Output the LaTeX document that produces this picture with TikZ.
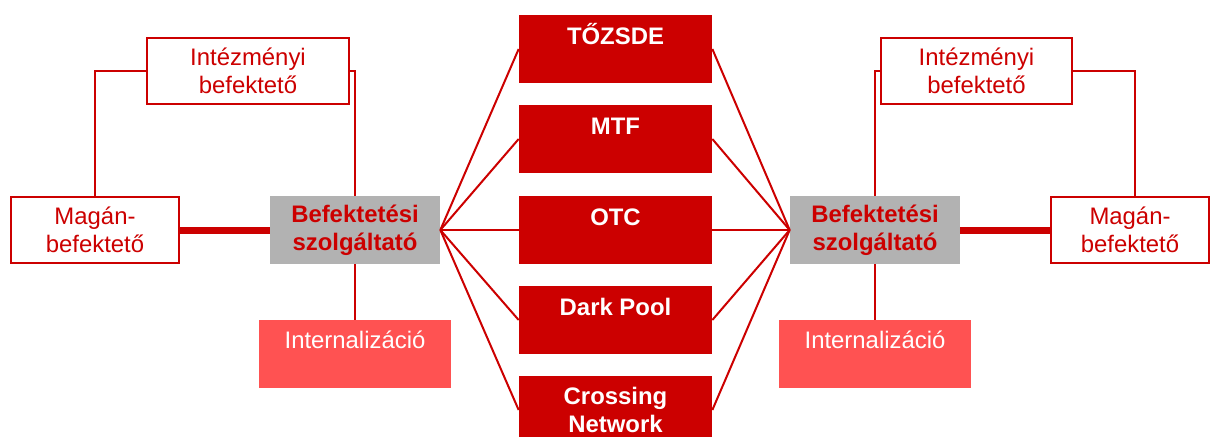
\documentclass[tikz,border=0pt]{standalone}
\usepackage{fontspec}
\setmainfont{Liberation Sans}
\definecolor{mred}{RGB}{204,0,0}
\definecolor{lred}{RGB}{255,82,82}
\definecolor{mgray}{RGB}{178,178,178}

\begin{document}
\begin{tikzpicture}[x=0.02cm, y=-0.02cm,
  every node/.style={inner sep=0pt, align=center, font=\fontsize{13.6}{15.9}\selectfont},
  investor/.style={draw=mred, line width=0.04cm, fill=white, text=mred, minimum height=1.32cm},
  provider/.style={fill=mgray, text=mred, font=\fontsize{13.6}{15.9}\selectfont\bfseries, minimum width=3.4cm, minimum height=1.36cm},
  venue/.style={fill=mred, text=white, font=\fontsize{13.6}{15.9}\selectfont\bfseries, minimum width=3.86cm, text height=0.59cm, text depth=0.77cm},
  internal/.style={fill=lred, text=white, minimum width=3.86cm, text height=0.56cm, text depth=0.8cm},
  link/.style={draw=mred, line width=0.04cm},
  trunk/.style={draw=mred, line width=0.14cm}]
\useasboundingbox (0, 0) rectangle (1212, 436);
\clip (0, 0) rectangle (1212, 436);
% left side
\node [investor, minimum width=4.04cm] (intL) at (248, 71) {Intézményi\\befektető};
\node [investor, minimum width=3.36cm] (magL) at (95, 230) {Magán-\\befektető};
\node [provider] (bsL) at (355, 230) {Befektetési\\szolgáltató};
\node [internal] (inL) at (355, 354) {Internalizáció};
% right side
\node [investor, minimum width=3.82cm] (intR) at (976.5, 71) {Intézményi\\befektető};
\node [investor, minimum width=3.16cm] (magR) at (1130, 230) {Magán-\\befektető};
\node [provider] (bsR) at (875, 230) {Befektetési\\szolgáltató};
\node [internal] (inR) at (875, 354) {Internalizáció};
% venues
\foreach \name/\txt/\y in {tozsde/TŐZSDE/49, mtf/MTF/139, otc/OTC/230, dark/Dark Pool/320}{
  \node [venue] (\name) at (615.5, \y) {\txt};
}
\node [venue, text height=1.13cm, text depth=0.23cm] (cross) at (615.5, 410) {Crossing\\Network};
\foreach \name in {tozsde, mtf, otc, dark, cross}{
  \draw [link] (bsL.east) -- (\name.west);
  \draw [link] (bsR.west) -- (\name.east);
}
\draw [link] (magL.north) |- (intL.west);
\draw [link] (intL.east) -| (bsL.north);
\draw [trunk] (magL.east) -- (bsL.west);
\draw [link] (bsL.south) -- (inL.north);
\draw [link] (intR.west) -| (bsR.north);
\draw [link] (intR.east) -| ([xshift=0.1cm]magR.north);
\draw [trunk] (bsR.east) -- (magR.west);
\draw [link] (bsR.south) -- (inR.north);
\end{tikzpicture}
\end{document}
